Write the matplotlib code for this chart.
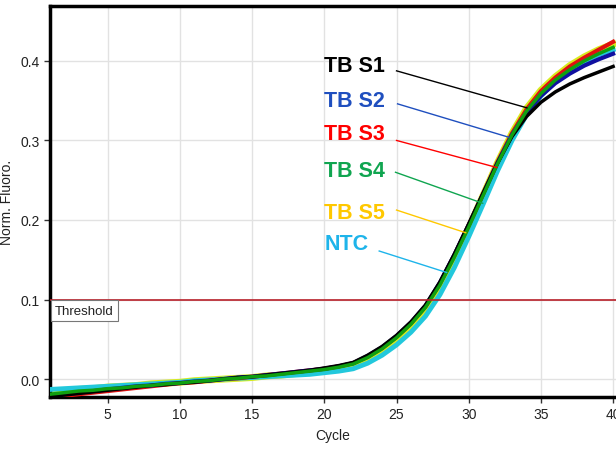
import numpy as np
import matplotlib.pyplot as plt

plt.rcParams['font.family'] = ['Liberation Sans', 'DejaVu Sans']

cycles = np.arange(1, 41)

s1 = [-0.022, -0.020, -0.018, -0.016, -0.014, -0.012, -0.010, -0.008, -0.007, -0.005,
      -0.004, -0.002, 0.000, 0.002, 0.003, 0.005, 0.007, 0.009, 0.011, 0.014,
      0.017, 0.021, 0.030, 0.041, 0.055, 0.072, 0.093, 0.122, 0.157, 0.195,
      0.234, 0.272, 0.305, 0.330, 0.348, 0.361, 0.371, 0.379, 0.386, 0.393]
s2 = [-0.021, -0.019, -0.017, -0.015, -0.013, -0.011, -0.009, -0.008, -0.006, -0.005,
      -0.003, -0.002, 0.000, 0.002, 0.003, 0.005, 0.007, 0.009, 0.011, 0.013,
      0.016, 0.020, 0.029, 0.040, 0.054, 0.071, 0.092, 0.121, 0.156, 0.194,
      0.233, 0.272, 0.307, 0.335, 0.356, 0.372, 0.384, 0.394, 0.402, 0.409]
s3 = [-0.024, -0.021, -0.019, -0.017, -0.015, -0.013, -0.011, -0.009, -0.007, -0.005,
      -0.004, -0.002, 0.000, 0.001, 0.003, 0.005, 0.007, 0.009, 0.011, 0.013,
      0.016, 0.020, 0.028, 0.039, 0.053, 0.070, 0.091, 0.120, 0.155, 0.193,
      0.233, 0.273, 0.309, 0.339, 0.362, 0.379, 0.393, 0.404, 0.414, 0.424]
s4 = [-0.019, -0.017, -0.015, -0.014, -0.012, -0.011, -0.009, -0.008, -0.006, -0.005,
      -0.003, -0.002, 0.000, 0.001, 0.003, 0.004, 0.006, 0.008, 0.010, 0.012,
      0.015, 0.019, 0.027, 0.038, 0.052, 0.069, 0.090, 0.118, 0.153, 0.191,
      0.231, 0.271, 0.307, 0.337, 0.359, 0.376, 0.389, 0.400, 0.409, 0.417]
s5 = [-0.016, -0.015, -0.013, -0.012, -0.010, -0.009, -0.008, -0.006, -0.005, -0.004,
      -0.002, -0.001, 0.000, 0.001, 0.002, 0.004, 0.005, 0.007, 0.009, 0.011,
      0.013, 0.017, 0.025, 0.036, 0.050, 0.067, 0.088, 0.116, 0.151, 0.190,
      0.231, 0.272, 0.309, 0.340, 0.363, 0.380, 0.394, 0.405, 0.414, 0.421]
ntc = [-0.013, -0.012, -0.011, -0.010, -0.009, -0.008, -0.007, -0.006, -0.005, -0.004,
       -0.002, -0.001, 0.000, 0.001, 0.002, 0.003, 0.004, 0.005, 0.006, 0.008,
       0.010, 0.013, 0.020, 0.030, 0.043, 0.059, 0.079, 0.106, 0.140, 0.179,
       0.220, 0.262, 0.300, 0.332, 0.356, 0.374, 0.388, 0.399, 0.408, 0.414]

threshold = 0.1

labels = ['TB S1', 'TB S2', 'TB S3', 'TB S4', 'TB S5', 'NTC']
label_colors = ['#000000', '#1f4fbf', '#ff0000', '#10a550', '#ffc800', '#1eb4ea']
label_y = [0.394, 0.350, 0.309, 0.262, 0.210, 0.171]
# leader lines: start (cycle, value) -> end on the curve
lead_start = [(25.0, 0.3875), (25.07, 0.346), (25.0, 0.300), (24.93, 0.260), (25.0, 0.2125), (23.8, 0.161)]
lead_end = [(34.03, 0.341), (32.78, 0.304), (31.94, 0.266), (30.97, 0.221), (29.79, 0.184), (28.47, 0.134)]

fig = plt.figure(figsize=(6.16, 4.52), dpi=100)
ax = fig.add_axes([50 / 616, 1 - 398 / 452, 1 - 50 / 616, (398 - 7) / 452])

ax.grid(True, color='#e2e2e2', lw=1)
ax.set_axisbelow(True)

# curves, drawn wide like the instrument software
ax.plot(cycles, s5, color='#d8ec20', lw=5, zorder=2)
ax.plot(cycles, ntc, color='#22c8dc', lw=3.5, zorder=3)
ax.plot(cycles, s3, color='#e01010', lw=3, zorder=3)
ax.plot(cycles, s2, color='#1010a0', lw=3, zorder=3)
ax.plot(cycles, s1, color='#000000', lw=2.5, zorder=3)
ax.plot(cycles, s4, color='#10a010', lw=2.5, zorder=4)

ax.axhline(threshold, color='#b8202a', lw=1.2, zorder=5)
ax.text(1.35, threshold - 0.0065, 'Threshold', fontsize=9.5, va='top', ha='left',
        color='#222222', zorder=6,
        bbox=dict(facecolor='white', edgecolor='#777777', lw=0.8, pad=3))

for lab, col, ty, st, en in zip(labels, label_colors, label_y, lead_start, lead_end):
    ax.text(20.0, ty, lab, color=col, fontsize=15.5, fontweight='bold', va='center', ha='left', zorder=7)
    ax.plot([st[0], en[0]], [st[1], en[1]], color=col, lw=1, zorder=7)

ax.set_xlim(1, 40.2)
ax.set_ylim(-0.0225, 0.469)
ax.set_xticks([5, 10, 15, 20, 25, 30, 35, 40])
ax.set_yticks([0.0, 0.1, 0.2, 0.3, 0.4])
ax.set_yticklabels(['0.0', '0.1', '0.2', '0.3', '0.4'])
ax.tick_params(labelsize=10, length=4, width=1, color='#333333', labelcolor='#222222')

for sp in ['left', 'bottom', 'top']:
    ax.spines[sp].set_linewidth(2.5)
ax.spines['right'].set_visible(False)

ax.set_xlabel('Cycle', fontsize=10, color='#222222', labelpad=5)
ax.set_ylabel('Norm. Fluoro.', fontsize=10, color='#222222')
ax.yaxis.set_label_coords(-0.064, 0.5)

fig.savefig('out.png', dpi=100)
